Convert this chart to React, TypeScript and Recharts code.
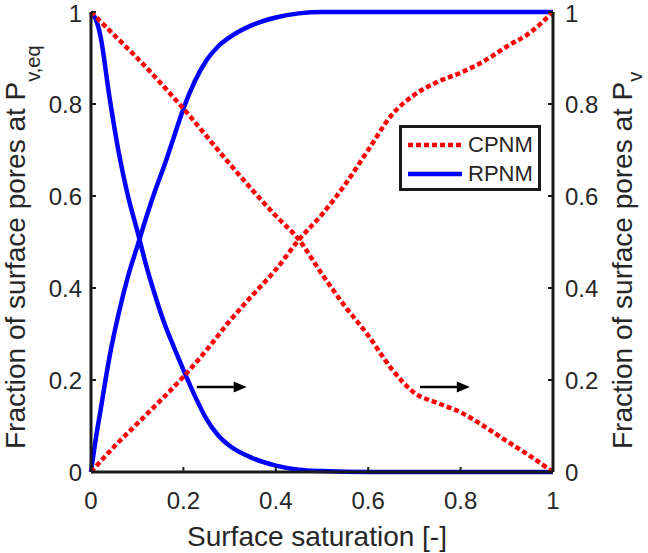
import React from 'react';
import { ComposedChart, Line, XAxis, YAxis, ReferenceLine, Legend } from 'recharts';

// axis ticks
const xTicks = [0, 0.2, 0.4, 0.6, 0.8, 1];
const yTicks = [0, 0.2, 0.4, 0.6, 0.8, 1];

// CPNM, fraction at Pv,eq (left axis)
const cpnmEqX = [0, 0.05, 0.1, 0.2, 0.3, 0.4, 0.45, 0.5, 0.55, 0.6, 0.65, 0.7, 0.75, 0.8, 0.85, 0.9, 0.95, 1];
const cpnmEqY = [1, 0.95, 0.9, 0.79, 0.67, 0.557, 0.505, 0.43, 0.36, 0.297, 0.225, 0.172, 0.15, 0.13, 0.1, 0.067, 0.035, 0];

// CPNM, fraction at Pv (right axis)
const cpnmPvX = [0, 0.05, 0.1, 0.15, 0.2, 0.25, 0.3, 0.35, 0.4, 0.45, 0.5, 0.55, 0.6, 0.65, 0.7, 0.75, 0.8, 0.85, 0.9, 0.95, 1];
const cpnmPvY = [0, 0.055, 0.105, 0.155, 0.207, 0.265, 0.328, 0.385, 0.44, 0.505, 0.56, 0.625, 0.7, 0.775, 0.82, 0.848, 0.868, 0.893, 0.925, 0.955, 1];

// RPNM, fraction at Pv,eq (left axis)
const rpnmEqX = [0, 0.01, 0.02, 0.04, 0.06, 0.08, 0.1, 0.12, 0.14, 0.16, 0.18, 0.2, 0.225, 0.25, 0.275, 0.3, 0.35, 0.4, 0.45, 0.5, 0.6, 0.8, 1];
const rpnmEqY = [1, 0.985, 0.95, 0.815, 0.695, 0.6, 0.525, 0.447, 0.38, 0.32, 0.27, 0.222, 0.165, 0.115, 0.08, 0.057, 0.03, 0.014, 0.005, 0.002, 0, 0, 0];

// RPNM, fraction at Pv (right axis)
const rpnmPvX = [0, 0.01, 0.02, 0.04, 0.06, 0.08, 0.1, 0.12, 0.14, 0.16, 0.18, 0.2, 0.225, 0.25, 0.275, 0.3, 0.35, 0.4, 0.45, 0.5, 0.6, 0.8, 1];
const rpnmPvY = [0, 0.07, 0.13, 0.25, 0.345, 0.425, 0.49, 0.555, 0.615, 0.67, 0.73, 0.79, 0.85, 0.895, 0.925, 0.945, 0.972, 0.988, 0.997, 1, 1, 1, 1];

// arrows pointing to the right axis
const arrowStarts = [0.229, 0.712];
const arrowEnds = [0.337, 0.82];
const arrowLevel = 0.185;

const legendItems = [
    { name: 'CPNM', color: '#ff0000', dash: '5 3' },
    { name: 'RPNM', color: '#0000ff', dash: undefined },
];

const toPoints = (xs: number[], ys: number[]) => xs.map((x, i) => ({ x, y: ys[i] }));

const FONT = '"Liberation Sans", Arial, Helvetica, sans-serif';
const TXT = '#262626';
const AXIS = '#1a1a1a';
const DOTS = '5 3';

const Arrow = (props: any) => {
    const { x1, y1, x2, y2 } = props;
    return (
        <g>
            <line x1={x1} y1={y1} x2={x2 - 8} y2={y2} stroke="#000" strokeWidth={2.5} />
            <polygon points={`${x2},${y2} ${x2 - 13},${y2 - 5.5} ${x2 - 13},${y2 + 5.5}`} fill="#000" />
        </g>
    );
};

// rotated axis title with a subscript, text starts near the bottom of the plot
const YTitle = ({ viewBox, side, sub, subShift }: any) => {
    const { x, y, width, height } = viewBox;
    const bx = side === 'left' ? x + 25 : x + width - 16;
    const sy = y + height - 23;
    return (
        <text
            x={bx}
            y={sy}
            transform={`rotate(-90, ${bx}, ${sy})`}
            textAnchor="start"
            fontSize={28}
            fontFamily={FONT}
            fill={TXT}
        >
            Fraction of surface pores at P
            <tspan fontSize={20} dy={subShift}>{sub}</tspan>
        </text>
    );
};

const XTitle = ({ viewBox }: any) => {
    const { x, y, width } = viewBox;
    return (
        <text x={x + width / 2 - 5} y={y + 74} textAnchor="middle" fontSize={28} fontFamily={FONT} fill={TXT}>
            Surface saturation [-]
        </text>
    );
};

const LegendBox = () => (
    <div
        style={{
            border: `3px solid ${AXIS}`,
            background: '#fff',
            boxSizing: 'border-box',
            width: 142,
            height: 66,
            padding: '2px 0 0 4px',
            fontFamily: FONT,
            fontSize: 22,
            color: TXT,
        }}
    >
        {legendItems.map((item) => (
            <div key={item.name} style={{ display: 'flex', alignItems: 'center', height: 29 }}>
                <svg width={58} height={10} style={{ marginRight: 4 }}>
                    <line x1={2} y1={5} x2={56} y2={5} stroke={item.color} strokeWidth={4.5} strokeDasharray={item.dash} />
                </svg>
                <span>{item.name}</span>
            </div>
        ))}
    </div>
);

export default function App() {
    return (
        <div style={{ position: 'absolute', left: 0, top: 0, width: 648, height: 553, background: '#fff' }}>
            <ComposedChart
                width={648}
                height={553}
                margin={{ top: 12, right: 0, bottom: 0, left: 0 }}
                style={{ fontFamily: FONT }}
            >
                <XAxis
                    xAxisId="bottom"
                    dataKey="x"
                    type="number"
                    domain={[0, 1]}
                    ticks={xTicks}
                    height={81}
                    tickSize={-5}
                    tickMargin={25}
                    tick={{ fontSize: 24, fill: TXT }}
                    axisLine={{ stroke: AXIS, strokeWidth: 3 }}
                    tickLine={{ stroke: AXIS, strokeWidth: 2 }}
                    label={{ content: (p: any) => <XTitle {...p} /> }}
                />
                <XAxis
                    xAxisId="top"
                    orientation="top"
                    type="number"
                    domain={[0, 1]}
                    ticks={xTicks}
                    height={0}
                    tickSize={-5}
                    tickFormatter={() => ''}
                    axisLine={{ stroke: AXIS, strokeWidth: 3 }}
                    tickLine={{ stroke: AXIS, strokeWidth: 2 }}
                />
                <YAxis
                    yAxisId="left"
                    type="number"
                    domain={[0, 1]}
                    ticks={yTicks}
                    width={91}
                    tickSize={-5}
                    tickMargin={14}
                    tick={{ fontSize: 24, fill: TXT }}
                    axisLine={{ stroke: AXIS, strokeWidth: 3 }}
                    tickLine={{ stroke: AXIS, strokeWidth: 2 }}
                    label={{ content: (p: any) => <YTitle {...p} side="left" sub="v,eq" subShift={15} /> }}
                />
                <YAxis
                    yAxisId="right"
                    orientation="right"
                    type="number"
                    domain={[0, 1]}
                    ticks={yTicks}
                    width={95}
                    tickSize={-5}
                    tickMargin={17}
                    tick={{ fontSize: 24, fill: TXT, textAnchor: 'start' }}
                    axisLine={{ stroke: AXIS, strokeWidth: 3 }}
                    tickLine={{ stroke: AXIS, strokeWidth: 2 }}
                    label={{ content: (p: any) => <YTitle {...p} side="right" sub="v" subShift={10} /> }}
                />

                <Line
                    data={toPoints(rpnmEqX, rpnmEqY)}
                    dataKey="y"
                    xAxisId="bottom"
                    yAxisId="left"
                    type="monotone"
                    stroke="#0000ff"
                    strokeWidth={4.5}
                    dot={false}
                    activeDot={false}
                    isAnimationActive={false}
                />
                <Line
                    data={toPoints(rpnmPvX, rpnmPvY)}
                    dataKey="y"
                    xAxisId="bottom"
                    yAxisId="right"
                    type="monotone"
                    stroke="#0000ff"
                    strokeWidth={4.5}
                    dot={false}
                    activeDot={false}
                    isAnimationActive={false}
                />
                <Line
                    data={toPoints(cpnmEqX, cpnmEqY)}
                    dataKey="y"
                    xAxisId="bottom"
                    yAxisId="left"
                    type="monotone"
                    stroke="#ff0000"
                    strokeWidth={4.5}
                    strokeDasharray={DOTS}
                    dot={false}
                    activeDot={false}
                    isAnimationActive={false}
                />
                <Line
                    data={toPoints(cpnmPvX, cpnmPvY)}
                    dataKey="y"
                    xAxisId="bottom"
                    yAxisId="right"
                    type="monotone"
                    stroke="#ff0000"
                    strokeWidth={4.5}
                    strokeDasharray={DOTS}
                    dot={false}
                    activeDot={false}
                    isAnimationActive={false}
                />

                {arrowStarts.map((s, i) => (
                    <ReferenceLine
                        key={`arrow-${i}`}
                        xAxisId="bottom"
                        yAxisId="left"
                        segment={[{ x: s, y: arrowLevel }, { x: arrowEnds[i], y: arrowLevel }]}
                        shape={Arrow}
                    />
                ))}

                <Legend
                    layout="vertical"
                    align="center"
                    verticalAlign="middle"
                    content={() => <LegendBox />}
                    wrapperStyle={{ left: 399, top: 125, width: 142, height: 66 }}
                />
            </ComposedChart>
        </div>
    );
}
